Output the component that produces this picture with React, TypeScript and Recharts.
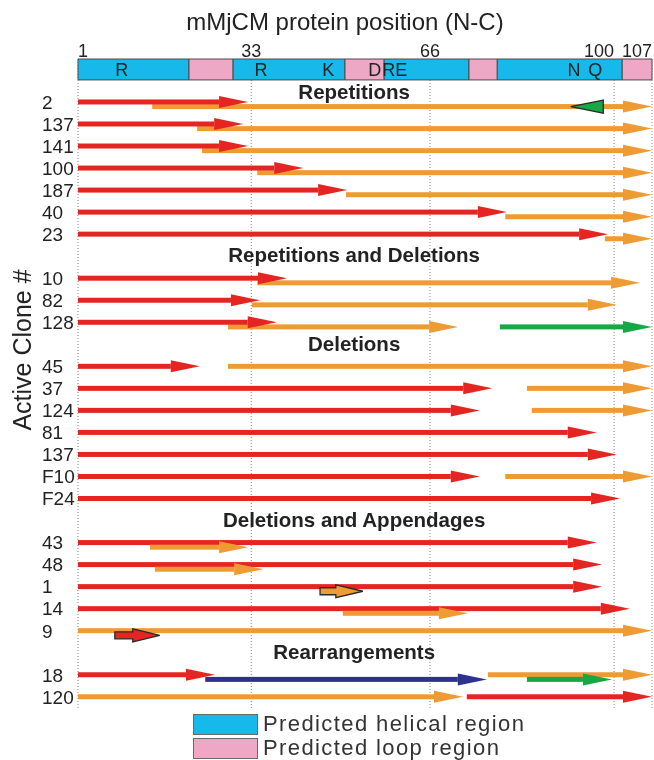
import React from "react";
import {
  ComposedChart,
  XAxis,
  YAxis,
  CartesianGrid,
  ReferenceArea,
  ReferenceLine,
  Scatter,
} from "recharts";

// protein map along the top (residue ranges)
const HELICES = [
  [1, 21.5],
  [29.6, 50.3],
  [57.5, 73.2],
  [78.4, 101.5],
];
const LOOPS = [
  [21.5, 29.6],
  [50.3, 57.5],
  [73.2, 78.4],
  [101.5, 107],
];
const RESIDUES = [
  { name: "R", pos: 9.1 },
  { name: "R", pos: 34.8 },
  { name: "K", pos: 47.2 },
  { name: "D", pos: 55.8 },
  { name: "RE", pos: 59.5 },
  { name: "N", pos: 92.6 },
  { name: "Q", pos: 96.5 },
];
const POSITION_TICKS = [1, 33, 66, 100, 107];

const GROUPS = [
  "Repetitions",
  "Repetitions and Deletions",
  "Deletions",
  "Deletions and Appendages",
  "Rearrangements",
];
const CLONES = [
  ["2", "137", "141", "100", "187", "40", "23"],
  ["10", "82", "128"],
  ["45", "37", "124", "81", "137", "F10", "F24"],
  ["43", "48", "1", "14", "9"],
  ["18", "120"],
];

// [from, to, segment, lane, boxed] - one list per clone, same order as CLONES
type Seg = [number, number, "A" | "B" | "C" | "D", number, boolean?];
const ARROWS: Seg[][] = [
  // Repetitions
  [[14.7, 107, "B", 1], [1, 32.4, "A", 0], [98, 92, "C", 1, true]],
  [[23.0, 107, "B", 1], [1, 31.5, "A", 0]],
  [[23.9, 107, "B", 1], [1, 32.4, "A", 0]],
  [[34.1, 107, "B", 1], [1, 42.6, "A", 0]],
  [[50.5, 107, "B", 1], [1, 50.7, "A", 0]],
  [[79.9, 107, "B", 1], [1, 80.2, "A", 0]],
  [[98.3, 107, "B", 1], [1, 98.9, "A", 0]],
  // Repetitions and Deletions
  [[34.1, 104.8, "B", 1], [1, 39.6, "A", 0]],
  [[33.1, 100.5, "B", 1], [1, 34.6, "A", 0]],
  [[28.7, 71.2, "B", 1], [1, 37.7, "A", 0], [78.9, 107, "C", 1]],
  // Deletions
  [[1, 23.5, "A", 0], [28.7, 107, "B", 0]],
  [[1, 77.5, "A", 0], [83.9, 107, "B", 0]],
  [[1, 75.2, "A", 0], [84.8, 107, "B", 0]],
  [[1, 96.8, "A", 0]],
  [[1, 100.5, "A", 0]],
  [[1, 75.2, "A", 0], [79.9, 107, "B", 0]],
  [[1, 101.1, "A", 0]],
  // Deletions and Appendages
  [[1, 96.8, "A", 0], [14.3, 32.4, "B", 1]],
  [[1, 97.8, "A", 0], [15.2, 35.2, "B", 1]],
  [[1, 97.8, "A", 0], [45.7, 53.6, "B", 1, true]],
  [[1, 102.9, "A", 0], [49.9, 73.0, "B", 1]],
  [[1, 107, "B", 0], [7.8, 16.1, "A", 1, true]],
  // Rearrangements
  [[24.5, 76.5, "D", 1], [1, 26.3, "A", 0], [76.7, 107, "B", 0], [83.9, 99.6, "C", 1]],
  [[1, 72.1, "B", 0], [72.8, 107, "A", 0]],
];

const SEG_COLOR: Record<string, string> = {
  A: "#e52521",
  B: "#ef9b34",
  C: "#17a845",
  D: "#2e3192",
};
const HELIX = "#16b9ea";
const LOOP = "#eea7c5";
const FONT = '"Liberation Sans", Arial, sans-serif';

const LANE = 0.21;
const BAR = [-1.95, -1.0];
const HEADER_AT = 52;

// lay out rows: a gap row before every group after the first
const rows: { label: string; row: number; arrows: Seg[] }[] = [];
const headers: { x: number; y: number; text: string }[] = [];
let r = 0;
let k = 0;
GROUPS.forEach((g, gi) => {
  headers.push({ x: HEADER_AT, y: gi === 0 ? r - 0.45 : r - 1.05, text: g });
  CLONES[gi].forEach((c) => {
    rows.push({ label: c, row: r, arrows: ARROWS[k++] });
    r++;
  });
  r++;
});
const rowTicks = rows.map((d) => d.row);
const labelOf = new Map(rows.map((d) => [d.row, d.label]));
const residueData = RESIDUES.map((d) => ({ x: d.pos, y: (BAR[0] + BAR[1]) / 2, text: d.name }));

const arrowShape = (color: string, boxed: boolean) => (p: any) => {
  const { x1, y1, x2 } = p;
  const y = y1;
  const dir = x2 >= x1 ? 1 : -1;
  const len = Math.abs(x2 - x1);
  const head = boxed ? 27 : 29;
  const hh = boxed ? 6.5 : 6;
  const sh = boxed ? 3.5 : 2.5;
  if (boxed) {
    const pts =
      len < head * 1.25
        ? [[x1, y - hh], [x2, y], [x1, y + hh]]
        : [
            [x1, y - sh],
            [x2 - dir * head, y - sh],
            [x2 - dir * head, y - hh],
            [x2, y],
            [x2 - dir * head, y + hh],
            [x2 - dir * head, y + sh],
            [x1, y + sh],
          ];
    return (
      <polygon
        points={pts.map((q) => q.join(",")).join(" ")}
        fill={color}
        stroke="#2a2a2a"
        strokeWidth={1.3}
        strokeLinejoin="miter"
      />
    );
  }
  const h = Math.min(head, len);
  const xb = x2 - dir * h;
  return (
    <g>
      <rect x={Math.min(x1, xb)} y={y - sh} width={Math.abs(xb - x1)} height={sh * 2} fill={color} />
      <polygon points={`${xb},${y - hh} ${x2},${y} ${xb},${y + hh}`} fill={color} />
    </g>
  );
};

const XTick = (p: any) => {
  const { x, y, payload, index } = p;
  const anchor = index === 0 ? "start" : index >= POSITION_TICKS.length - 2 ? "end" : "middle";
  return (
    <text x={x} y={y} textAnchor={anchor} fontSize={18} fill="#222">
      {payload.value}
    </text>
  );
};

const YTick = (p: any) => {
  const { y, payload } = p;
  return (
    <text x={42} y={y} dy="0.36em" textAnchor="start" fontSize={19} fill="#222">
      {labelOf.get(payload.value)}
    </text>
  );
};

export default function App() {
  return (
    <div
      style={{
        position: "fixed",
        left: 0,
        top: 0,
        width: 654,
        height: 760,
        background: "#fff",
        fontFamily: FONT,
        color: "#222",
      }}
    >
      <div
        style={{
          position: "absolute",
          left: 0,
          top: 10,
          width: 690,
          textAlign: "center",
          fontSize: 24,
          lineHeight: "24px",
        }}
      >
        mMjCM protein position (N-C)
      </div>
      <div
        style={{
          position: "absolute",
          left: 22 - 150,
          top: 350 - 15,
          width: 300,
          height: 30,
          lineHeight: "30px",
          textAlign: "center",
          fontSize: 25,
          transform: "rotate(-90deg)",
        }}
      >
        Active Clone #
      </div>

      <ComposedChart width={654} height={760} margin={{ top: 29, right: 2, bottom: 50, left: 0 }}>
        <CartesianGrid horizontal={false} stroke="#8a8a8a" strokeDasharray="1 2" />
        <XAxis
          xAxisId={0}
          dataKey="x"
          type="number"
          orientation="top"
          domain={[1, 107]}
          ticks={POSITION_TICKS}
          interval={0}
          allowDataOverflow
          axisLine={false}
          tickLine={false}
          tickSize={0}
          tickMargin={2}
          height={30}
          tick={<XTick />}
        />
        <YAxis
          yAxisId={0}
          dataKey="y"
          type="number"
          domain={[-1.95, 27.6]}
          reversed
          allowDataOverflow
          ticks={rowTicks}
          interval={0}
          axisLine={false}
          tickLine={false}
          width={78}
          tick={<YTick />}
        />

        {HELICES.map(([a, b], i) => (
          <ReferenceArea
            key={`h${i}`}
            x1={a}
            x2={b}
            y1={BAR[0]}
            y2={BAR[1]}
            fill={HELIX}
            fillOpacity={1}
            stroke="#4a4a4a"
            strokeWidth={1}
            ifOverflow="visible"
          />
        ))}
        {LOOPS.map(([a, b], i) => (
          <ReferenceArea
            key={`l${i}`}
            x1={a}
            x2={b}
            y1={BAR[0]}
            y2={BAR[1]}
            fill={LOOP}
            fillOpacity={1}
            stroke="#4a4a4a"
            strokeWidth={1}
            ifOverflow="visible"
          />
        ))}

        {rows.flatMap((d) =>
          d.arrows.map(([from, to, seg, lane, boxed], j) => (
            <ReferenceLine
              key={`${d.row}-${j}`}
              segment={[
                { x: from, y: d.row + lane * LANE },
                { x: to, y: d.row + lane * LANE },
              ]}
              ifOverflow="visible"
              shape={arrowShape(SEG_COLOR[seg], !!boxed)}
            />
          ))
        )}

        <Scatter
          data={residueData}
          isAnimationActive={false}
          shape={(p: any) => (
            <text
              x={p.cx}
              y={p.cy}
              dy="0.36em"
              textAnchor="middle"
              fontSize={18}
              fill="#222"
            >
              {p.payload.text}
            </text>
          )}
        />
        <Scatter
          data={headers}
          isAnimationActive={false}
          shape={(p: any) => (
            <text
              x={p.cx}
              y={p.cy}
              dy="0.36em"
              textAnchor="middle"
              fontSize={20.5}
              fontWeight="bold"
              fill="#222"
            >
              {p.payload.text}
            </text>
          )}
        />
      </ComposedChart>

      <div style={{ position: "absolute", left: 193, top: 712 }}>
        {[
          { fill: HELIX, text: "Predicted helical region" },
          { fill: LOOP, text: "Predicted loop region" },
        ].map((e) => (
          <div key={e.text} style={{ display: "flex", alignItems: "center", height: 24 }}>
            <div
              style={{
                width: 63,
                height: 19,
                background: e.fill,
                border: "1px solid #6a6a6a",
              }}
            />
            <span
              style={{
                marginLeft: 5,
                fontSize: 22,
                lineHeight: "24px",
                letterSpacing: 1.4,
                color: "#333",
                whiteSpace: "nowrap",
              }}
            >
              {e.text}
            </span>
          </div>
        ))}
      </div>
    </div>
  );
}
